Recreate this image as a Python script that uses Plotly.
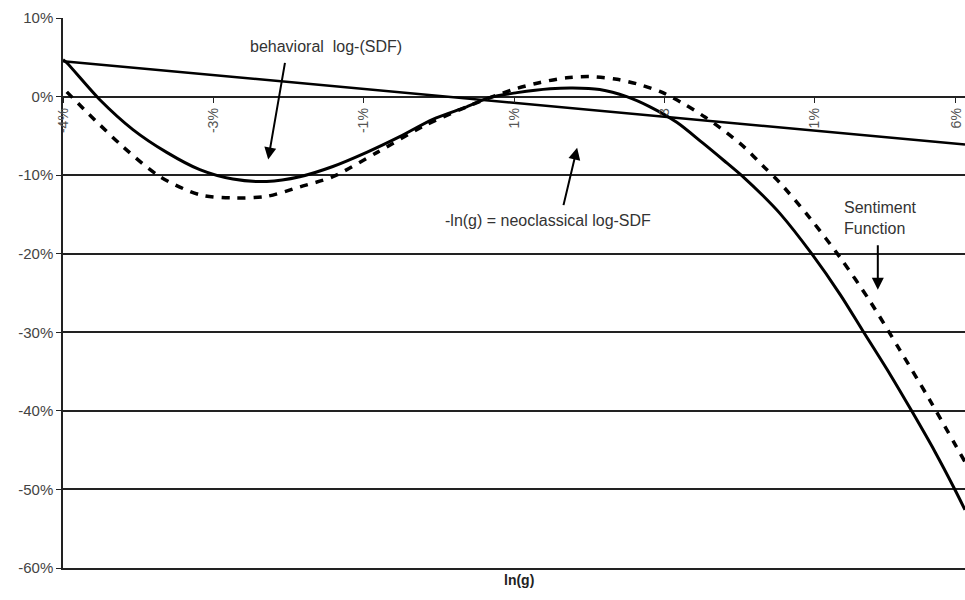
import plotly.graph_objects as go

# ---- data (x = ln(g) in %, y in %) ----
neo_x = [-5.0, 7.0]
neo_y = [4.5, -6.1]

beh_x = [-5.00, -4.95, -4.51, -4.07, -3.62, -3.18, -2.74, -2.29, -1.85, -1.41, -0.96, -0.52,
         -0.08, 0.37, 0.68, 1.04, 1.48, 1.78, 2.14, 2.50, 2.81, 3.17, 3.51, 3.80, 4.07, 4.30, 4.54,
         4.96, 5.34, 5.64, 6.00, 6.29, 6.60, 6.87, 7.00]
beh_y = [4.7, 4.3, -0.4, -4.2, -7.1, -9.3, -10.5, -10.8, -10.2, -8.9, -7.1, -5.1,
         -2.9, -1.3, -0.1, 0.5, 1.0, 1.1, 0.9, 0.0, -1.3, -3.3, -5.9, -8.2, -10.4, -12.5, -14.9,
         -20.0, -25.2, -29.8, -35.3, -40.0, -45.2, -50.1, -52.6]

sent_x = [-4.95, -4.68, -4.20, -3.71, -3.18, -2.74, -2.29, -1.85, -1.41, -0.82, -0.21, 0.37,
          0.99, 1.35, 1.70, 2.01, 2.37, 2.68, 2.98, 3.27, 3.54, 3.83, 4.07, 4.31, 4.54,
          4.94, 5.34, 5.74, 6.13, 6.53, 7.00]
sent_y = [0.6, -2.0, -6.4, -10.2, -12.5, -12.9, -12.7, -11.5, -10.2, -7.1, -3.8, -1.3,
          0.9, 1.8, 2.4, 2.55, 2.2, 1.5, 0.5, -1.0, -2.6, -4.6, -6.5, -8.8, -11.0,
          -15.5, -20.5, -26.1, -32.2, -38.6, -46.5]

x_tickvals = [-5, -3, -1, 1, 3, 5, 6.88]
x_ticktext = ["-4%", "-3%", "-1%", "1%", "3", "1%", "6%"]
y_tickvals = [-60, -50, -40, -30, -20, -10, 0, 10]
y_ticktext = ["-60%", "-50%", "-40%", "-30%", "-20%", "-10%", "0%", "10%"]

fig = go.Figure()
fig.add_trace(go.Scatter(x=sent_x, y=sent_y, mode="lines",
                         line=dict(color="black", width=3.5, dash="8px,8px", shape="spline", smoothing=0.8),
                         showlegend=False, hoverinfo="skip"))
fig.add_trace(go.Scatter(x=beh_x, y=beh_y, mode="lines",
                         line=dict(color="black", width=3, shape="spline", smoothing=0.8),
                         showlegend=False, hoverinfo="skip"))
fig.add_trace(go.Scatter(x=neo_x, y=neo_y, mode="lines", line=dict(color="black", width=2.5),
                         showlegend=False, hoverinfo="skip", xaxis="x2"))

font_txt = dict(family="Liberation Sans, Arial", size=16, color="#333333")

fig.update_layout(
    width=965, height=600,
    margin=dict(l=63, r=0, t=18, b=32),
    plot_bgcolor="white", paper_bgcolor="white",
    font=font_txt,
    xaxis=dict(range=[-5, 7], showgrid=False, zeroline=False, showline=True, linecolor="#222", linewidth=1.5,
               showticklabels=False, ticks="", automargin=False),
    xaxis2=dict(range=[-5, 7], overlaying="x", anchor="free", position=60 / 70, side="bottom",
                showgrid=False, zeroline=False, showline=False, automargin=False,
                tickvals=x_tickvals, ticktext=x_ticktext, tickangle=-90, ticklabeloverflow="allow",
                ticks="outside", ticklen=5, tickcolor="#222", tickwidth=1,
                tickfont=dict(family="Liberation Sans, Arial", size=14, color="#555")),
    yaxis=dict(range=[-60, 10], tickvals=y_tickvals, ticktext=y_ticktext, showgrid=True, gridcolor="#222",
               gridwidth=1.5, zeroline=False, showline=True, linecolor="#222", linewidth=1.5,
               ticks="outside", ticklen=5, tickcolor="#222", automargin=False,
               tickfont=dict(family="Liberation Sans, Arial", size=15, color="#444")),
)

# labels
fig.add_annotation(x=-1.50, y=6.4, text="behavioral  log-(SDF)", showarrow=False, font=font_txt)
fig.add_annotation(x=1.45, y=-15.8, text="-ln(g) = neoclassical log-SDF", showarrow=False, font=font_txt)
fig.add_annotation(x=5.36, y=-15.5, text="Sentiment<br>Function", showarrow=False, xanchor="left",
                   align="left", font=font_txt)

# arrows
arrow = dict(showarrow=True, arrowhead=2, arrowsize=1.2, arrowwidth=2, arrowcolor="black", text="")
fig.add_annotation(x=-2.27, y=-8.0, ax=17, ay=-98, **arrow)
fig.add_annotation(x=1.84, y=-6.5, ax=-14, ay=59, **arrow)
fig.add_annotation(x=5.84, y=-24.6, ax=0, ay=-46, **arrow)

# axis title
fig.add_annotation(xref="paper", yref="paper", x=(519 - 63) / 902, y=-22 / 550, text="<b>ln(g)</b>",
                   showarrow=False, font=dict(family="Liberation Sans, Arial", size=14, color="#222"))

fig.write_html("out.html")
